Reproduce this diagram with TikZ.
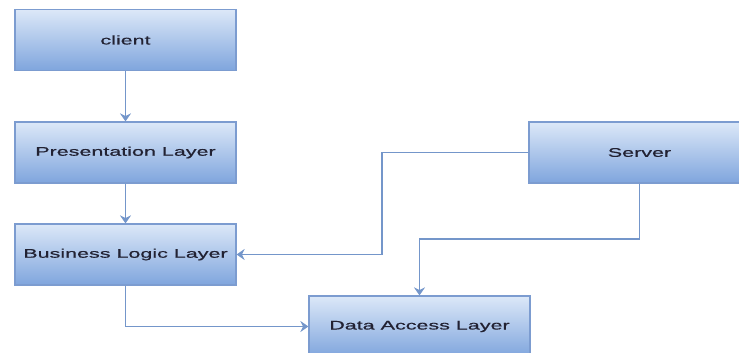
\documentclass[tikz,border=0pt]{standalone}
\usepackage{fontspec}
\usetikzlibrary{arrows.meta}
\newfontfamily\labfont[FakeStretch=1.72,FakeBold=0.6]{Liberation Sans}
\definecolor{boxtop}{HTML}{DCE8F8}
\definecolor{boxbot}{HTML}{7FA5DD}
\definecolor{boxline}{HTML}{7C9CD0}
\definecolor{conn}{HTML}{7496CA}
\definecolor{txt}{HTML}{222233}
\tikzset{
  layer/.style={draw=boxline, line width=1.2pt, top color=boxtop, bottom color=boxbot,
    minimum width=221pt, minimum height=61pt, inner sep=0pt, text=txt,
    font=\labfont\fontsize{12.5pt}{14pt}\selectfont},
  link/.style={draw=conn, line width=1.8pt, -{Stealth[length=8pt,width=11pt]}}
}
\begin{document}
\begin{tikzpicture}[x=1pt,y=-1pt]
\useasboundingbox (0,0) rectangle (739,353);
\clip (0,0) rectangle (739,353);
\node[layer] (client) at (125.5,40) {client};
\node[layer] (pres) at (125.5,152.5) {Presentation Layer};
\node[layer] (bll) at (125.5,254.5) {Business Logic Layer};
\node[layer] (dal) at (419.5,326.5) {Data Access Layer};
\node[layer] (server) at (639.5,152.5) {Server};
\coordinate (sb) at (382,152.5);
\coordinate (sd) at (639.5,239);
\draw[link] (client) -- (pres);
\draw[link] (pres) -- (bll);
\draw[link] (bll.south) |- (dal.west);
\draw[link] (server.west) -- (sb) |- (bll.east);
\draw[link] (server.south) -- (sd) -| (dal.north);
\end{tikzpicture}
\end{document}
